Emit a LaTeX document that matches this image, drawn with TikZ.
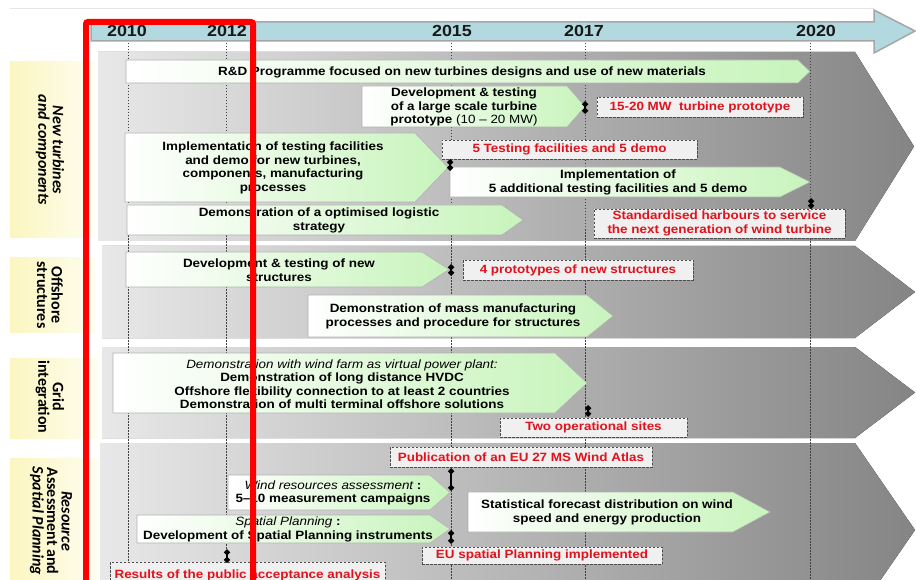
\documentclass[tikz,border=0pt]{standalone}
\usepackage{fontspec}
\setmainfont{Liberation Sans}[FakeStretch=1.12]
\newfontfamily\rowfont{Carlito}
\usetikzlibrary{arrows.meta}

\definecolor{axisblue}{RGB}{178,216,224}
\definecolor{taskgreen}{RGB}{200,244,188}
\definecolor{rowyellow}{RGB}{251,246,192}
\definecolor{milered}{RGB}{226,18,28}

\begin{document}
\begin{tikzpicture}[x=1pt, y=-1pt,
  rowband/.style={left color=black!9, right color=black!48},
  rowlabel/.style={left color=rowyellow, right color=rowyellow!25},
  rowtext/.style={rotate=-90, align=center, font=\rowfont\fontsize{16}{14.5}\selectfont\bfseries},
  taskbox/.style={draw=gray!60, line width=0.6pt, left color=white, right color=taskgreen},
  task/.style={align=center, inner sep=0pt, font=\fontsize{12}{13.5}\selectfont\bfseries},
  milebox/.style={draw=black!70, dash pattern=on 2.5pt off 1.5pt, line width=0.8pt, fill=gray!12,
    text=milered, align=center, inner sep=0pt, font=\fontsize{12}{13.5}\selectfont\bfseries},
  mstone/.style={line width=1.5pt, {Diamond[length=6.5pt,width=6.5pt]}-{Diamond[length=6.5pt,width=6.5pt]}},
  yearline/.style={black!75, line width=0.9pt, dash pattern=on 1.5pt off 1.5pt},
  year/.style={font=\fontsize{16}{16}\selectfont\bfseries, text=black!90}
]
  \useasboundingbox (0,0) rectangle (916,580);
  \clip (0,0) rectangle (916,580);
  \fill[white] (0,0) rectangle (916,580);

  % Línea superior
  \draw[gray!20, line width=1pt] (10,9) -- (874,9);

  % Bandas grises de cada fila
  \fill[rowband] (98,52) -- (855,52) -- (914,146.5) -- (855,241) -- (98,241) -- cycle;
  \fill[rowband] (102,246) -- (855,246) -- (915,292) -- (855,338) -- (102,338) -- cycle;
  \fill[rowband] (102,347) -- (855,347) -- (915,392.5) -- (855,438) -- (102,438) -- cycle;
  \fill[rowband] (100,443) -- (855,443) -- (915,530) -- (855,617) -- (100,617) -- cycle;

  % Etiquetas de las filas
  \fill[rowlabel] (10,62) rectangle (94,238);
  \node[rowtext] (lab1) at (50,150) {\itshape New turbines\\\itshape and components};
  \fill[rowlabel] (10,258) rectangle (95,332);
  \node[rowtext] (lab2) at (50,295) {Offshore\\structures};
  \fill[rowlabel] (10,358) rectangle (97,438);
  \node[rowtext] (lab3) at (50,397) {Grid\\integration};
  \fill[rowlabel] (10,458) rectangle (98,590);
  \node[rowtext] (lab4) at (51,521) {\itshape Resource\\Assessment and\\\itshape Spatial Planning};

  % Eje temporal
  \draw[draw=gray!70, line width=1.5pt, fill=axisblue] (91,22) -- (874,22) -- (874,10) -- (915,31)
    -- (874,53) -- (874,41) -- (91,41) -- cycle;
  \foreach \yr/\x in {2010/127, 2012/227, 2015/452, 2017/584, 2020/816}
    \node[year] (t\yr) at (\x,31) {\yr};

  % Líneas verticales de los años
  \foreach \x in {128,226,451,585,810}
    \draw[yearline] (\x,43) -- (\x,580);

  % Fila 1: turbinas y componentes
  \draw[taskbox] (126,60) -- (798,60) -- (810,71.5) -- (798,83) -- (126,83) -- cycle;
  \node[task] (rd) at (462,72) {R\&D Programme focused on new turbines designs and use of new materials};
  \draw[taskbox] (362,86) -- (567,86) -- (585,106.5) -- (567,127) -- (362,127) -- cycle;
  \node[task] (proto) at (464,107) {Development \& testing\\of a large scale turbine\\prototype {\mdseries (10 -- 20 MW)}};
  \draw[taskbox] (125,133) -- (415,133) -- (448,167.5) -- (415,202) -- (125,202) -- cycle;
  \node[task] (facil) at (273,168) {Implementation of testing facilities\\and demo for new turbines,\\components, manufacturing\\processes};
  \draw[taskbox] (450,167) -- (780,167) -- (810,182) -- (780,197) -- (450,197) -- cycle;
  \node[task] (addfac) at (618,182.5) {Implementation of\\5 additional testing facilities and 5 demo};
  \draw[taskbox] (127,205) -- (502,205) -- (523,220) -- (502,235) -- (127,235) -- cycle;
  \node[task] (logis) at (319,220.5) {Demonstration of a optimised logistic\\strategy};

  % Fila 2: estructuras
  \draw[taskbox] (126,252) -- (422,252) -- (449,269.5) -- (422,287) -- (126,287) -- cycle;
  \node[task] (struct) at (279,270) {Development \& testing of new\\structures};
  \draw[taskbox] (308,295) -- (587,295) -- (613,316) -- (587,337) -- (308,337) -- cycle;
  \node[task] (massman) at (453,316.5) {Demonstration of mass manufacturing\\processes and procedure for structures};

  % Fila 3: red
  \draw[taskbox] (113,353) -- (555,353) -- (587,383) -- (555,413) -- (113,413) -- cycle;
  \node[task] (hvdc) at (342,384) {{\mdseries\itshape Demonstration with wind farm as virtual power plant:}\\Demonstration of long distance HVDC\\Offshore flexibility connection to at least 2 countries\\Demonstration of multi terminal offshore solutions};

  % Fila 4: recurso y planificación
  \draw[taskbox] (228,475) -- (430,475) -- (450,492.5) -- (430,510) -- (228,510) -- cycle;
  \node[task] (windres) at (333,493) {{\mdseries\itshape Wind resources assessment} :\\5--10 measurement campaigns};
  \draw[taskbox] (137,515) -- (430,515) -- (450,529) -- (430,543) -- (137,543) -- cycle;
  \node[task] (spatial) at (288,529.5) {{\mdseries\itshape Spatial Planning} :\\Development of Spatial Planning instruments};
  \draw[taskbox] (468,492) -- (733,492) -- (770,512) -- (733,532) -- (468,532) -- cycle;
  \node[task] (forecast) at (607,512.5) {Statistical forecast distribution on wind\\speed and energy production};

  % Hitos
  \node[milebox, minimum width=206, minimum height=20] (m1) at (700,107) {15-20 MW\ \ turbine prototype};
  \node[milebox, minimum width=255, minimum height=19] (m2) at (569.5,149.5) {5 Testing facilities and 5 demo};
  \node[milebox, minimum width=251, minimum height=29] (m3) at (719.5,223.5) {Standardised harbours to service\\the next generation of wind turbine};
  \node[milebox, minimum width=230, minimum height=20] (m4) at (578,270) {4 prototypes of new structures};
  \node[milebox, minimum width=187, minimum height=19] (m5) at (593.5,427.5) {Two operational sites};
  \node[milebox, minimum width=262, minimum height=20] (m6) at (521,457) {Publication of an EU 27 MS Wind Atlas};
  \node[milebox, minimum width=240, minimum height=17] (m7) at (542,555.5) {EU spatial Planning implemented};
  \node[milebox, minimum width=275, minimum height=26] (m8) at (247.5,575) {Results of the public acceptance analysis};

  % Marcas de hito
  \foreach \n/\x/\ya/\yb in {1/585/101/114, 2/450/159/171, 3/811/198/209, 4/451/264/276,
                             5/588/405/417, 6/451/468/491, 7/451/530/544, 8/227/549/563} {
    \coordinate (k\n a) at (\x,\ya);
    \coordinate (k\n b) at (\x,\yb);
    \draw[mstone] (k\n a) -- (k\n b);
  }

  % Recuadro rojo
  \draw[red, line width=6pt, rounded corners=2pt] (86,22) rectangle (253,583);
\end{tikzpicture}
\end{document}
